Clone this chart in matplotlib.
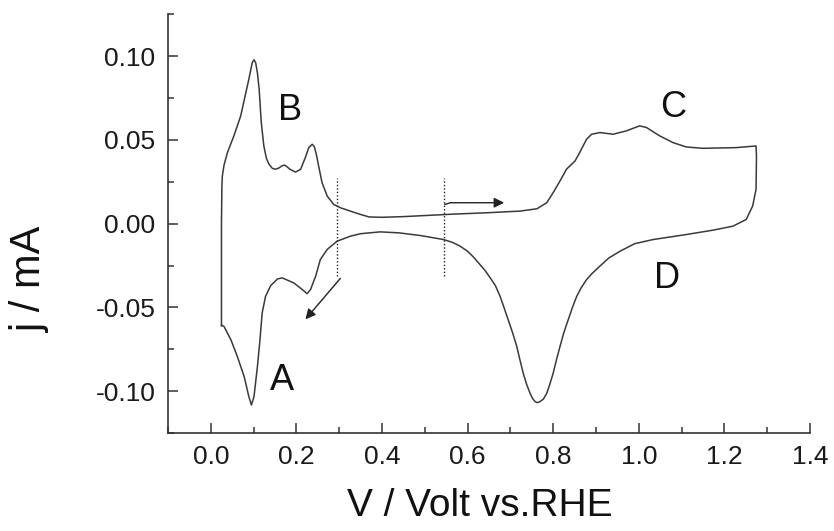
import numpy as np
import matplotlib
matplotlib.use('Agg')
import matplotlib.pyplot as plt
from matplotlib.ticker import MultipleLocator, FormatStrFormatter

# anodic sweep (lower limit -> upper limit)
anodic_v = [0.025, 0.025, 0.026, 0.027, 0.031, 0.039, 0.054, 0.070, 0.082, 0.089,
            0.097, 0.101, 0.105, 0.109, 0.113, 0.118, 0.124, 0.130, 0.136, 0.144,
            0.151, 0.159, 0.166, 0.172, 0.178, 0.185, 0.198, 0.210, 0.221, 0.229,
            0.237, 0.242, 0.247, 0.252, 0.260, 0.272, 0.287, 0.303, 0.326, 0.350,
            0.370, 0.400, 0.450, 0.490, 0.567, 0.645, 0.723, 0.762, 0.785, 0.800,
            0.816, 0.831, 0.851, 0.862, 0.878, 0.890, 0.909, 0.940, 0.971, 1.002,
            1.018, 1.049, 1.080, 1.111, 1.150, 1.227, 1.274]
anodic_j = [-0.061, 0.000, 0.022, 0.0284, 0.035, 0.0425, 0.0524, 0.0644, 0.0784, 0.0863,
            0.0963, 0.0979, 0.096, 0.090, 0.0804, 0.0604, 0.0464, 0.039, 0.0355, 0.033,
            0.0325, 0.0332, 0.0345, 0.035, 0.034, 0.0325, 0.0308, 0.0325, 0.0395, 0.0454,
            0.0474, 0.046, 0.041, 0.0344, 0.0245, 0.0165, 0.0115, 0.0095, 0.0075, 0.0055,
            0.0040, 0.0038, 0.0042, 0.0047, 0.0057, 0.0065, 0.0075, 0.0089, 0.0125, 0.0185,
            0.0255, 0.0325, 0.0374, 0.0425, 0.0504, 0.0534, 0.0544, 0.0534, 0.0554, 0.0584,
            0.0574, 0.0524, 0.0484, 0.0458, 0.045, 0.0454, 0.0464]

# cathodic sweep (upper limit -> lower limit)
cathodic_v = [1.275, 1.274, 1.266, 1.251, 1.220, 1.173, 1.111, 1.033, 0.990, 0.956,
              0.930, 0.909, 0.890, 0.878, 0.865, 0.855, 0.845, 0.835, 0.825, 0.816,
              0.808, 0.800, 0.792, 0.785, 0.777, 0.769, 0.763, 0.758, 0.752, 0.746,
              0.738, 0.730, 0.722, 0.715, 0.705, 0.695, 0.685, 0.676, 0.665, 0.653,
              0.641, 0.629, 0.614, 0.600, 0.583, 0.565, 0.544, 0.490, 0.440, 0.396,
              0.350, 0.326, 0.295, 0.272, 0.256, 0.245, 0.233, 0.225, 0.214, 0.194,
              0.167, 0.156, 0.140, 0.128, 0.120, 0.115, 0.109, 0.101, 0.095, 0.089,
              0.078, 0.062, 0.047, 0.031, 0.025]
cathodic_j = [0.040, 0.0205, 0.0105, 0.0025, -0.0015, -0.0039, -0.0065, -0.0095, -0.0120, -0.0165,
              -0.0205, -0.0254, -0.0300, -0.0334, -0.0385, -0.0434, -0.0500, -0.0574, -0.0650, -0.0733,
              -0.0810, -0.0893, -0.0960, -0.1013, -0.1048, -0.1063, -0.1069, -0.1063, -0.1045, -0.1013,
              -0.0960, -0.0893, -0.0810, -0.0733, -0.0650, -0.0574, -0.0500, -0.0434, -0.0370, -0.0324,
              -0.0280, -0.0244, -0.0200, -0.0165, -0.0135, -0.0112, -0.0095, -0.0071, -0.0055, -0.0049,
              -0.0060, -0.0075, -0.0105, -0.0154, -0.0214, -0.0314, -0.0394, -0.0418, -0.0394, -0.0354,
              -0.0324, -0.0330, -0.0370, -0.0434, -0.0534, -0.0693, -0.0853, -0.1033, -0.1083, -0.1033,
              -0.0913, -0.0793, -0.0693, -0.0614, -0.0606]

peak_labels = ['A', 'B', 'C', 'D']
label_v = [0.167, 0.186, 1.080, 1.065]
label_j = [-0.0935, 0.0675, 0.0695, -0.0325]

plt.rcParams['font.family'] = ['Liberation Sans', 'DejaVu Sans']
line_col = '#3a3a3a'

fig = plt.figure(figsize=(8.34, 5.31), dpi=100)
ax = fig.add_axes([0.2014, 0.1846, 0.7698, 0.7884])

v = np.concatenate([anodic_v, cathodic_v])
j = np.concatenate([anodic_j, cathodic_j])
ax.plot(v, j, color=line_col, linewidth=1.1, solid_joinstyle='round')

# dotted markers of the double-layer window
for xv in (0.295, 0.545):
    ax.plot([xv, xv], [-0.031, 0.0275], color='#222222', linestyle=(0, (1, 1.5)), linewidth=1.0)

# scan direction arrows
ax.plot([0.547, 0.56], [0.0115, 0.0125], color='#222222', linewidth=1.0)
ax.annotate('', xy=(0.692, 0.0125), xytext=(0.555, 0.0125),
            arrowprops=dict(arrowstyle='-|>', color='#222222', lw=1.0, mutation_scale=15))
ax.annotate('', xy=(0.217, -0.0584), xytext=(0.307, -0.0314),
            arrowprops=dict(arrowstyle='-|>', color='#222222', lw=1.0, mutation_scale=15))

for lab, xv, yv in zip(peak_labels, label_v, label_j):
    ax.text(xv, yv, lab, fontsize=26, ha='center', va='center', color='#111111')

ax.set_xlim(-0.1, 1.4)
ax.set_ylim(-0.125, 0.125)
ax.xaxis.set_major_locator(MultipleLocator(0.2))
ax.xaxis.set_minor_locator(MultipleLocator(0.1))
ax.yaxis.set_major_locator(MultipleLocator(0.05))
ax.yaxis.set_minor_locator(MultipleLocator(0.025))
ax.xaxis.set_major_formatter(FormatStrFormatter('%.1f'))
ax.yaxis.set_major_formatter(FormatStrFormatter('%.2f'))

ax.spines['top'].set_visible(False)
ax.spines['right'].set_visible(False)
for s in ('left', 'bottom'):
    ax.spines[s].set_linewidth(1.2)
    ax.spines[s].set_color('#333333')

ax.tick_params(which='major', direction='in', length=7, width=1.1, color='#333333',
               labelsize=19, labelcolor='#1a1a1a')
ax.tick_params(axis='x', which='major', pad=9)
ax.tick_params(axis='y', which='major', pad=9)
ax.tick_params(which='minor', direction='in', length=4, width=1.1, color='#333333')
ax.xaxis.set_ticks_position('bottom')
ax.yaxis.set_ticks_position('left')

ax.set_xlabel('V / Volt vs.RHE', fontsize=28, color='#111111')
ax.set_ylabel('j / mA', fontsize=30, color='#111111')
ax.xaxis.set_label_coords(0.486, -0.131)
ax.yaxis.set_label_coords(-0.184, 0.365)

fig.savefig('out.png', dpi=100)
